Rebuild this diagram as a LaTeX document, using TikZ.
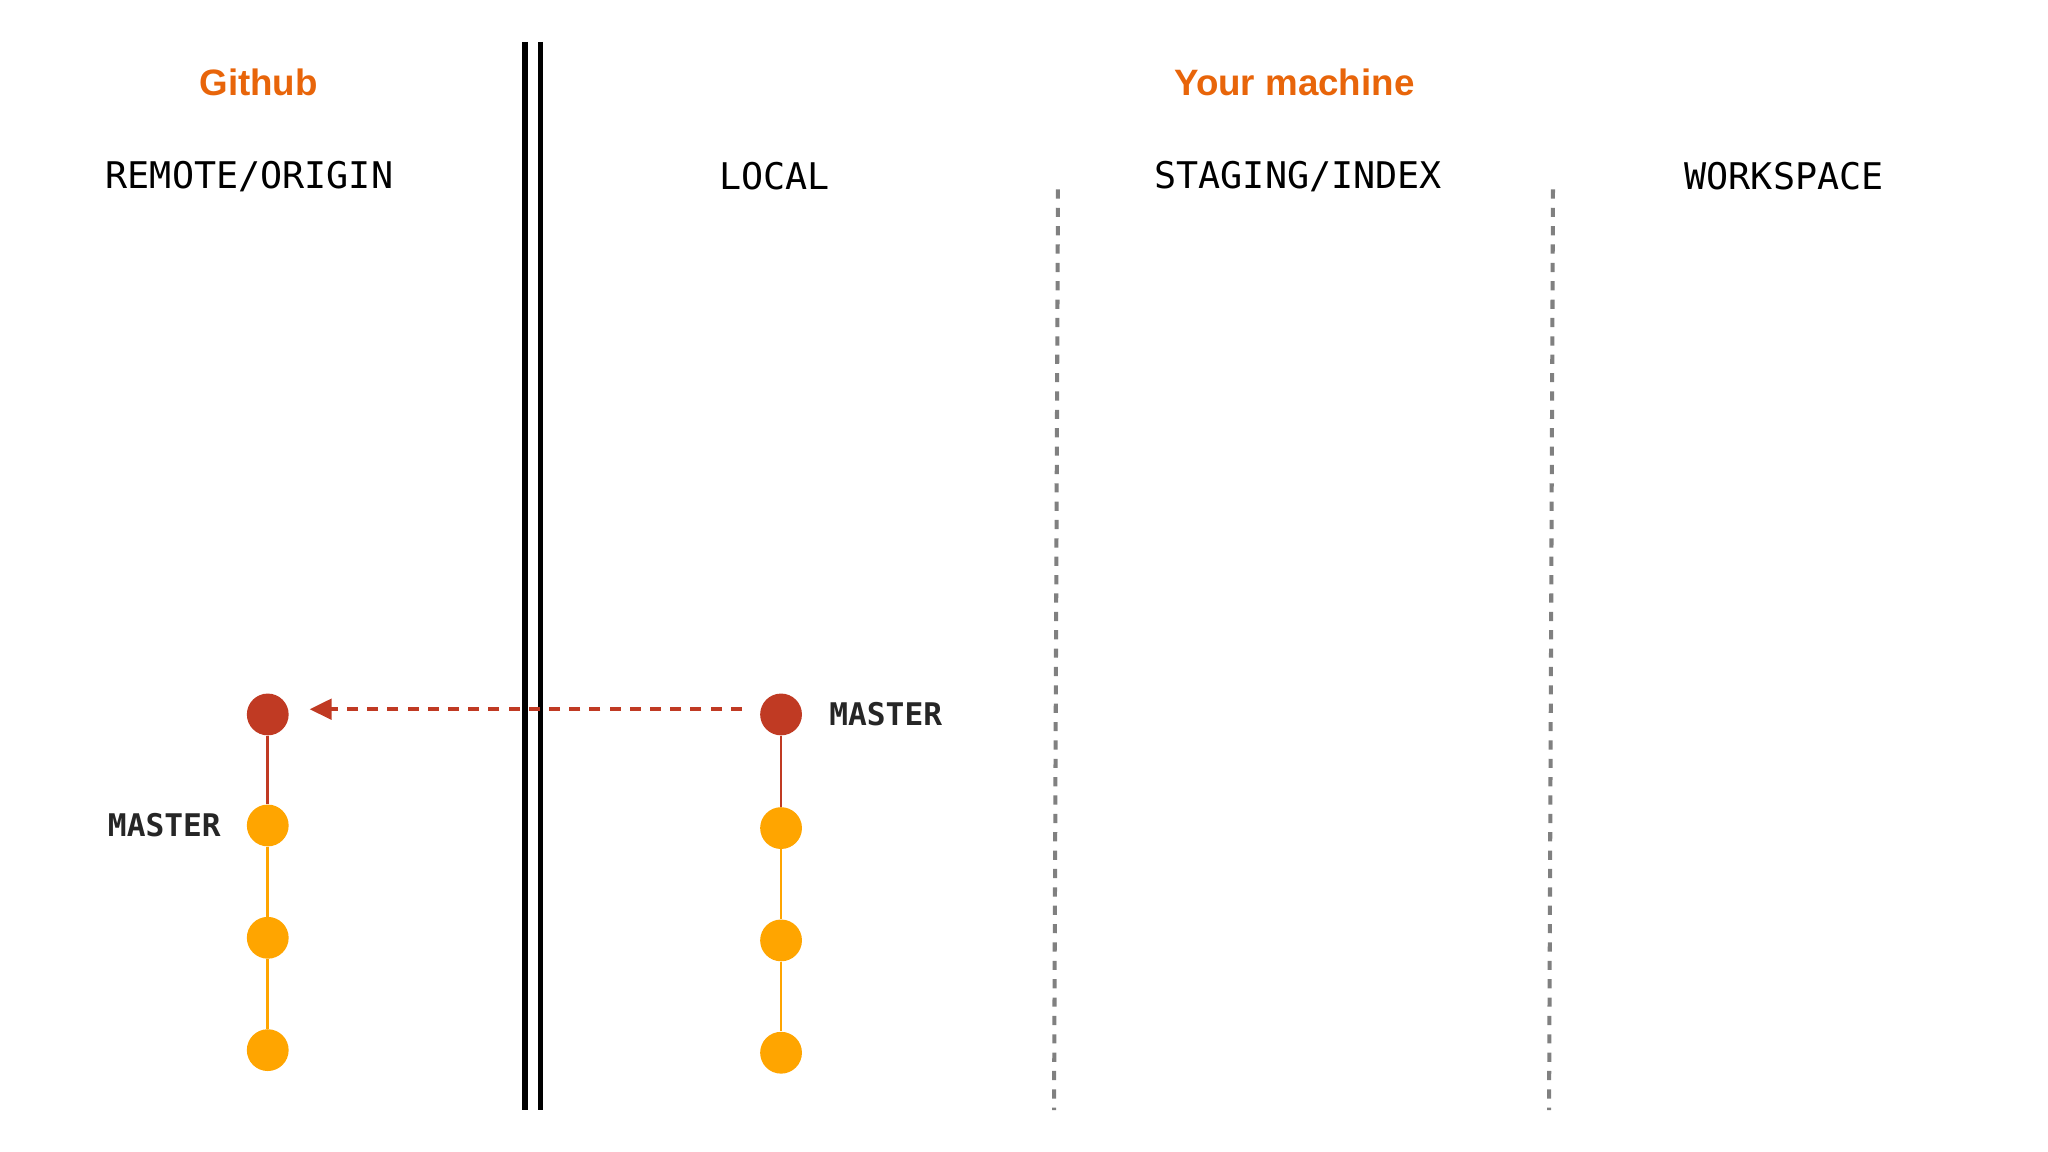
\documentclass[tikz,border=0pt]{standalone}
\usepackage{fontspec}
\setmainfont{Liberation Sans}
\setmonofont{DejaVu Sans Mono}
\usetikzlibrary{arrows.meta}
\definecolor{ghorange}{HTML}{E8650A}
\definecolor{cred}{HTML}{C03A23}
\definecolor{cyel}{HTML}{FFA500}
\definecolor{dgray}{HTML}{808080}
\begin{document}
\begin{tikzpicture}[x=0.025cm,y=-0.025cm,
  title/.style={font=\fontsize{20}{24}\selectfont\bfseries, text=ghorange},
  hdr/.style={font=\ttfamily\fontsize{20}{24}\selectfont},
  lbl/.style={font=\ttfamily\bfseries\fontsize{17}{20}\selectfont, text=black!85},
  cm/.style={circle, fill=#1, minimum size=0.8cm, inner sep=0pt},
  sep/.style={dgray, line width=2.2pt, dash pattern=on 5pt off 5pt}]
\useasboundingbox (0,0) rectangle (1568,882);
\node[title] (gh) at (198,63) {Github};
\node[title] (ym) at (991,63) {Your machine};
\node[hdr] (h1) at (191,135) {REMOTE/ORIGIN};
\node[hdr] (h2) at (593,135) {LOCAL};
\node[hdr] (h3) at (994,135) {STAGING/INDEX};
\node[hdr] (h4) at (1366,135) {WORKSPACE};
\draw[line width=2.8pt] (402,32) -- (402,850);
\draw[line width=2.8pt] (414,32) -- (414,850);
\draw[sep] (810,145) -- (807,850);
\draw[sep] (1189,145) -- (1186,850);
% left
\node[cm=cred] (l1) at (205,547) {};
\node[cm=cyel] (l2) at (205,632) {};
\node[cm=cyel] (l3) at (205,718) {};
\node[cm=cyel] (l4) at (205,804) {};
\draw[cred, line width=1.5pt] (l1) -- (l2);
\draw[cyel, line width=1.5pt] (l2) -- (l3) (l3) -- (l4);
% right
\node[cm=cred] (r1) at (598,547) {};
\node[cm=cyel] (r2) at (598,634) {};
\node[cm=cyel] (r3) at (598,720) {};
\node[cm=cyel] (r4) at (598,806) {};
\draw[cred, line width=1.5pt] (r1) -- (r2);
\draw[cyel, line width=1.5pt] (r2) -- (r3) (r3) -- (r4);
\coordinate (as) at (568,543);
\coordinate (ae) at (237,543);
\draw[cred, line width=2.4pt, dash pattern=on 6pt off 5pt, -{Triangle[length=12pt,width=11pt]}] (as) -- (ae);
\node[lbl, anchor=west] (m1) at (630,547) {MASTER};
\node[lbl, anchor=east] (m2) at (174,632) {MASTER};
\end{tikzpicture}
\end{document}
